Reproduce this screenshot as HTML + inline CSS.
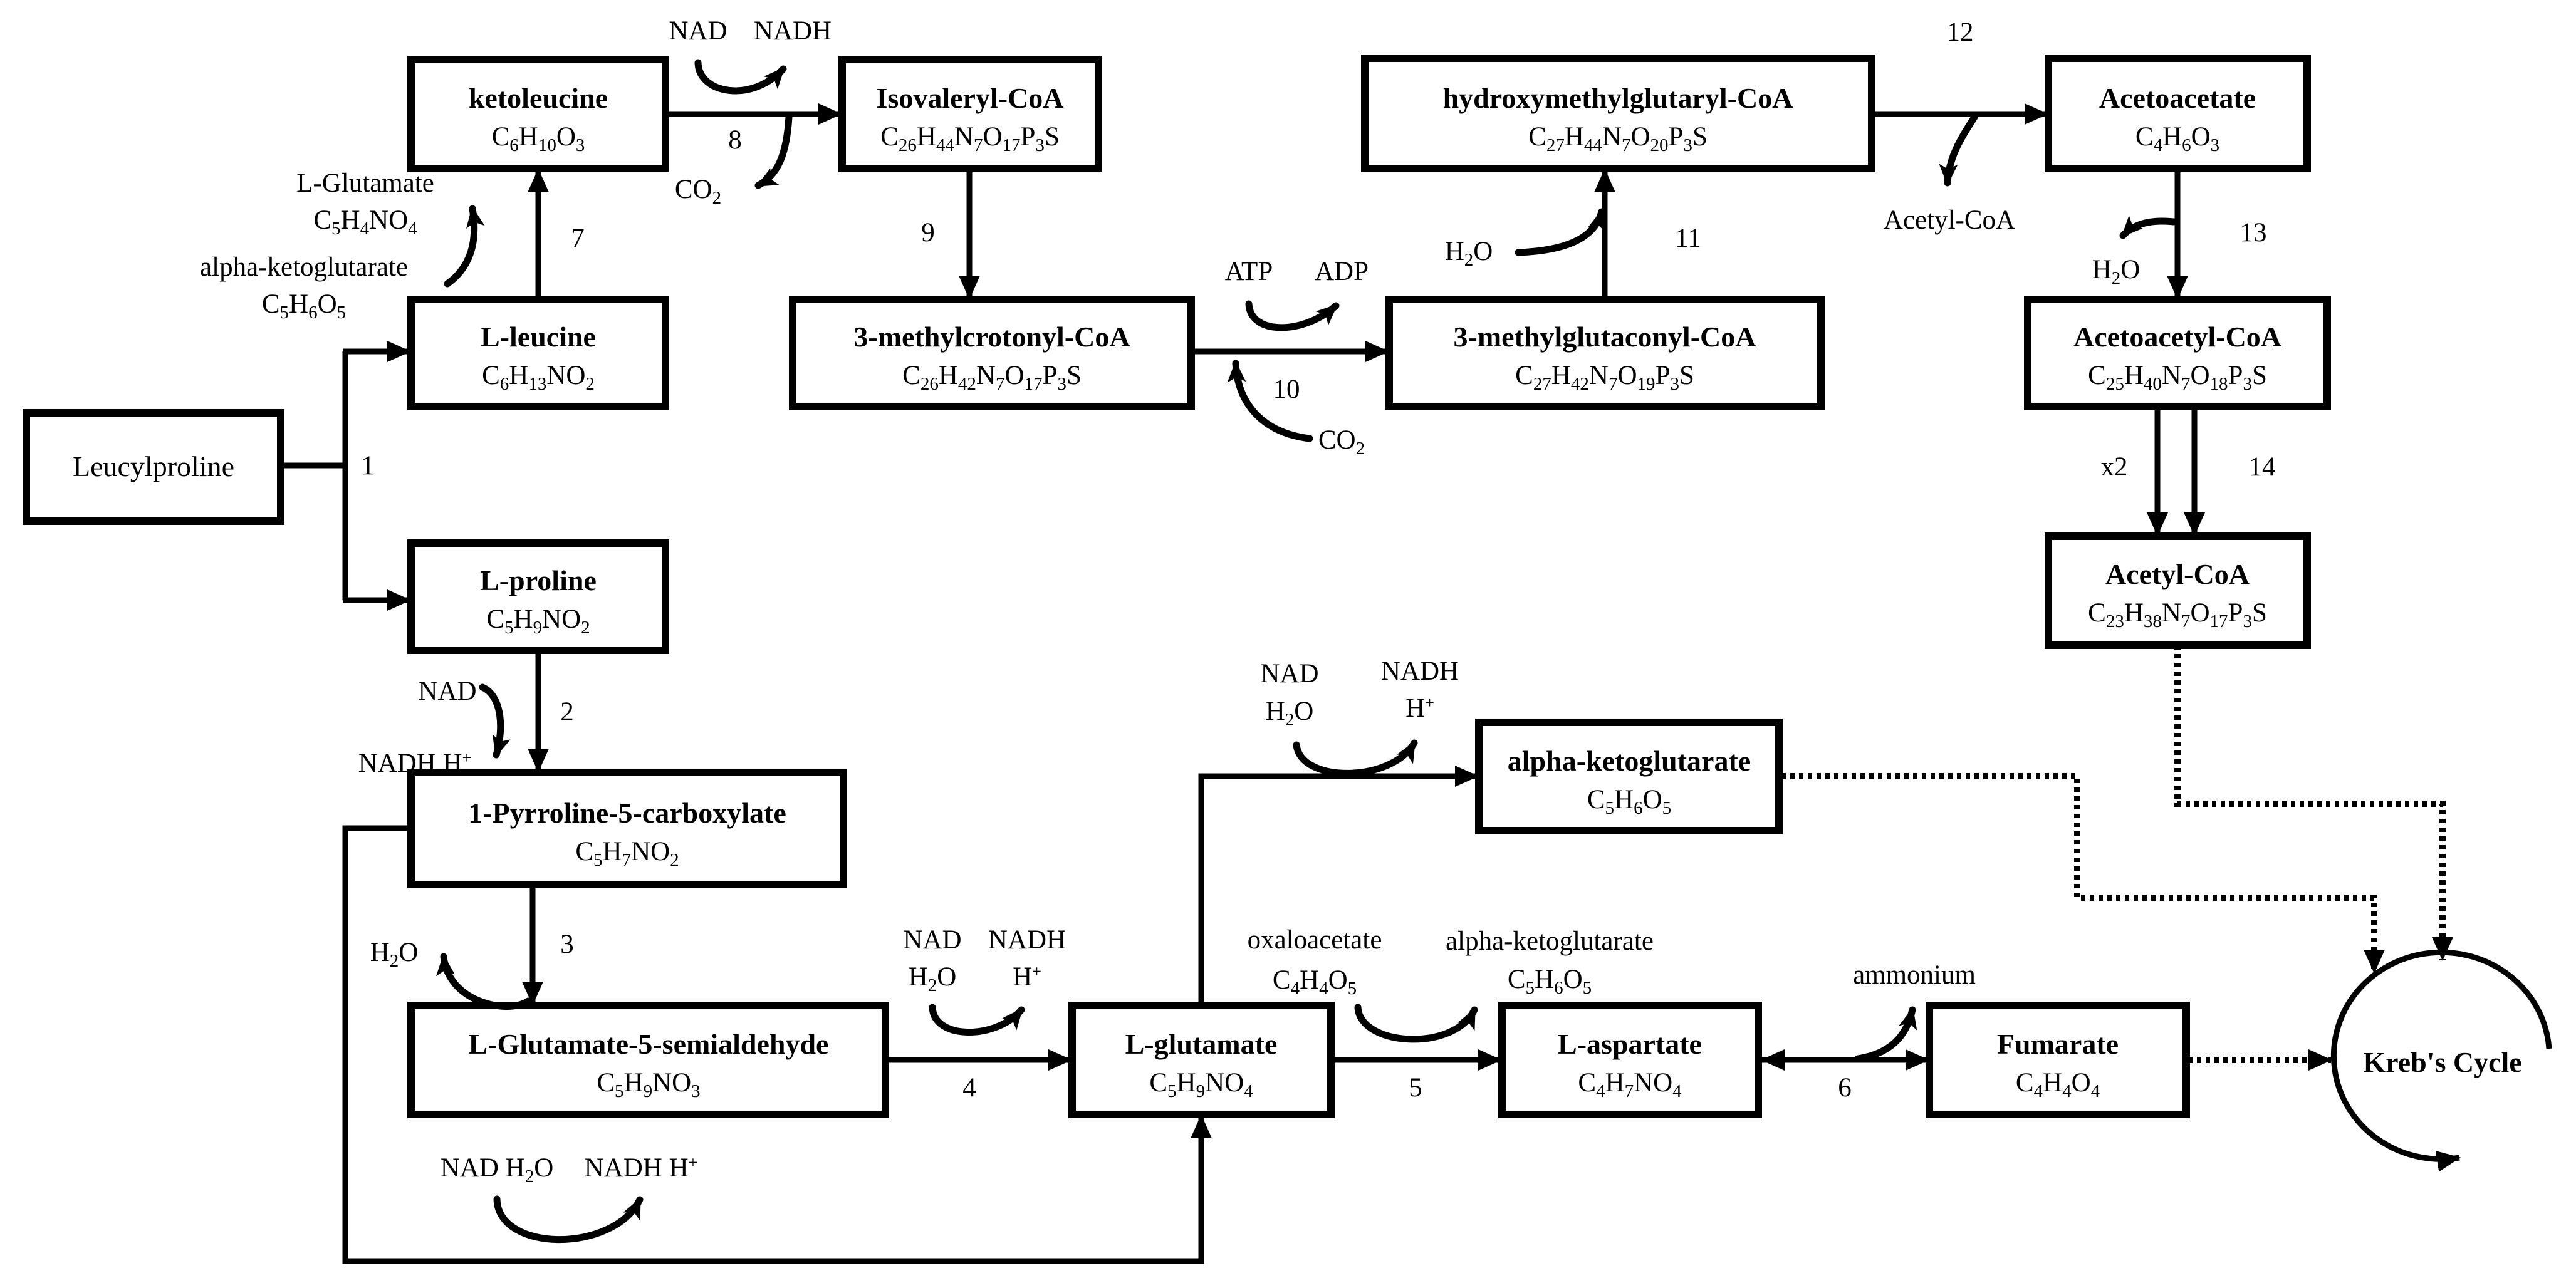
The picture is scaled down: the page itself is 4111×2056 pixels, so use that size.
<!DOCTYPE html>
<html><head><meta charset="utf-8"><style>
html,body{margin:0;padding:0;background:#fff}
svg{display:block}
text{font-family:"Liberation Serif",serif;fill:#000;text-anchor:middle}
.n{font-size:46px;font-weight:bold}
.f{font-size:43px}
.l{font-size:43px}
.s{font-size:29px}
.p{font-size:26px}
rect{fill:#fff;stroke:#000;stroke-width:12}
.c{fill:none;stroke:#000;stroke-width:9}
.k{fill:none;stroke:#000;stroke-width:11;stroke-linecap:round}
.d{fill:none;stroke:#000;stroke-width:10;stroke-dasharray:7 7}
</style></head><body>
<svg width="4111" height="2056" viewBox="0 0 4111 2056" xmlns="http://www.w3.org/2000/svg">
<defs>
<marker id="a" markerUnits="userSpaceOnUse" markerWidth="40" markerHeight="34" refX="36" refY="17" orient="auto"><path d="M0,0 L38,17 L0,34 Z" fill="#000"/></marker>
<marker id="b" markerUnits="userSpaceOnUse" markerWidth="40" markerHeight="34" refX="2" refY="17" orient="auto"><path d="M38,0 L0,17 L38,34 Z" fill="#000"/></marker>
<marker id="h" markerUnits="userSpaceOnUse" markerWidth="36" markerHeight="34" refX="30" refY="17" orient="auto"><path d="M0,2 L34,17 L0,32 L8,17 Z" fill="#000"/></marker>
</defs>

<rect x="656" y="95" width="406" height="174"/>
<rect x="1344" y="95" width="409" height="174"/>
<rect x="2178" y="93" width="809" height="176"/>
<rect x="3269" y="93" width="413" height="176"/>
<rect x="656" y="478" width="406" height="171"/>
<rect x="1265" y="478" width="636" height="171"/>
<rect x="2217" y="478" width="689" height="171"/>
<rect x="3236" y="478" width="478" height="171"/>
<rect x="42" y="659" width="406" height="173"/>
<rect x="656" y="867" width="406" height="171"/>
<rect x="3269" y="856" width="413" height="174"/>
<rect x="656" y="1233" width="690" height="179"/>
<rect x="2360" y="1153" width="479" height="173"/>
<rect x="656" y="1605" width="757" height="174"/>
<rect x="1711" y="1605" width="413" height="174"/>
<rect x="2397" y="1605" width="409" height="174"/>
<rect x="3079" y="1605" width="410" height="174"/>

<text class="n" x="859" y="172">ketoleucine</text>
<text class="f" x="859" y="232">C<tspan class="s" dy="9">6</tspan><tspan dy="-9">H</tspan><tspan class="s" dy="9">10</tspan><tspan dy="-9">O</tspan><tspan class="s" dy="9">3</tspan></text>
<text class="n" x="1548" y="172">Isovaleryl-CoA</text>
<text class="f" x="1548" y="232">C<tspan class="s" dy="9">26</tspan><tspan dy="-9">H</tspan><tspan class="s" dy="9">44</tspan><tspan dy="-9">N</tspan><tspan class="s" dy="9">7</tspan><tspan dy="-9">O</tspan><tspan class="s" dy="9">17</tspan><tspan dy="-9">P</tspan><tspan class="s" dy="9">3</tspan><tspan dy="-9">S</tspan></text>
<text class="n" x="2582" y="172">hydroxymethylglutaryl-CoA</text>
<text class="f" x="2582" y="232">C<tspan class="s" dy="9">27</tspan><tspan dy="-9">H</tspan><tspan class="s" dy="9">44</tspan><tspan dy="-9">N</tspan><tspan class="s" dy="9">7</tspan><tspan dy="-9">O</tspan><tspan class="s" dy="9">20</tspan><tspan dy="-9">P</tspan><tspan class="s" dy="9">3</tspan><tspan dy="-9">S</tspan></text>
<text class="n" x="3475" y="172">Acetoacetate</text>
<text class="f" x="3475" y="232">C<tspan class="s" dy="9">4</tspan><tspan dy="-9">H</tspan><tspan class="s" dy="9">6</tspan><tspan dy="-9">O</tspan><tspan class="s" dy="9">3</tspan></text>
<text class="n" x="859" y="553">L-leucine</text>
<text class="f" x="859" y="613">C<tspan class="s" dy="9">6</tspan><tspan dy="-9">H</tspan><tspan class="s" dy="9">13</tspan><tspan dy="-9">NO</tspan><tspan class="s" dy="9">2</tspan></text>
<text class="n" x="1583" y="553">3-methylcrotonyl-CoA</text>
<text class="f" x="1583" y="613">C<tspan class="s" dy="9">26</tspan><tspan dy="-9">H</tspan><tspan class="s" dy="9">42</tspan><tspan dy="-9">N</tspan><tspan class="s" dy="9">7</tspan><tspan dy="-9">O</tspan><tspan class="s" dy="9">17</tspan><tspan dy="-9">P</tspan><tspan class="s" dy="9">3</tspan><tspan dy="-9">S</tspan></text>
<text class="n" x="2561" y="553">3-methylglutaconyl-CoA</text>
<text class="f" x="2561" y="613">C<tspan class="s" dy="9">27</tspan><tspan dy="-9">H</tspan><tspan class="s" dy="9">42</tspan><tspan dy="-9">N</tspan><tspan class="s" dy="9">7</tspan><tspan dy="-9">O</tspan><tspan class="s" dy="9">19</tspan><tspan dy="-9">P</tspan><tspan class="s" dy="9">3</tspan><tspan dy="-9">S</tspan></text>
<text class="n" x="3475" y="553">Acetoacetyl-CoA</text>
<text class="f" x="3475" y="613">C<tspan class="s" dy="9">25</tspan><tspan dy="-9">H</tspan><tspan class="s" dy="9">40</tspan><tspan dy="-9">N</tspan><tspan class="s" dy="9">7</tspan><tspan dy="-9">O</tspan><tspan class="s" dy="9">18</tspan><tspan dy="-9">P</tspan><tspan class="s" dy="9">3</tspan><tspan dy="-9">S</tspan></text>
<text class="f" x="245" y="760" style="font-size:46px">Leucylproline</text>
<text class="n" x="859" y="942">L-proline</text>
<text class="f" x="859" y="1002">C<tspan class="s" dy="9">5</tspan><tspan dy="-9">H</tspan><tspan class="s" dy="9">9</tspan><tspan dy="-9">NO</tspan><tspan class="s" dy="9">2</tspan></text>
<text class="n" x="3475" y="932">Acetyl-CoA</text>
<text class="f" x="3475" y="992">C<tspan class="s" dy="9">23</tspan><tspan dy="-9">H</tspan><tspan class="s" dy="9">38</tspan><tspan dy="-9">N</tspan><tspan class="s" dy="9">7</tspan><tspan dy="-9">O</tspan><tspan class="s" dy="9">17</tspan><tspan dy="-9">P</tspan><tspan class="s" dy="9">3</tspan><tspan dy="-9">S</tspan></text>
<text class="n" x="1001" y="1313">1-Pyrroline-5-carboxylate</text>
<text class="f" x="1001" y="1373">C<tspan class="s" dy="9">5</tspan><tspan dy="-9">H</tspan><tspan class="s" dy="9">7</tspan><tspan dy="-9">NO</tspan><tspan class="s" dy="9">2</tspan></text>
<text class="n" x="2600" y="1230">alpha-ketoglutarate</text>
<text class="f" x="2600" y="1290">C<tspan class="s" dy="9">5</tspan><tspan dy="-9">H</tspan><tspan class="s" dy="9">6</tspan><tspan dy="-9">O</tspan><tspan class="s" dy="9">5</tspan></text>
<text class="n" x="1035" y="1682">L-Glutamate-5-semialdehyde</text>
<text class="f" x="1035" y="1742">C<tspan class="s" dy="9">5</tspan><tspan dy="-9">H</tspan><tspan class="s" dy="9">9</tspan><tspan dy="-9">NO</tspan><tspan class="s" dy="9">3</tspan></text>
<text class="n" x="1917" y="1682">L-glutamate</text>
<text class="f" x="1917" y="1742">C<tspan class="s" dy="9">5</tspan><tspan dy="-9">H</tspan><tspan class="s" dy="9">9</tspan><tspan dy="-9">NO</tspan><tspan class="s" dy="9">4</tspan></text>
<text class="n" x="2601" y="1682">L-aspartate</text>
<text class="f" x="2601" y="1742">C<tspan class="s" dy="9">4</tspan><tspan dy="-9">H</tspan><tspan class="s" dy="9">7</tspan><tspan dy="-9">NO</tspan><tspan class="s" dy="9">4</tspan></text>
<text class="n" x="3284" y="1682">Fumarate</text>
<text class="f" x="3284" y="1742">C<tspan class="s" dy="9">4</tspan><tspan dy="-9">H</tspan><tspan class="s" dy="9">4</tspan><tspan dy="-9">O</tspan><tspan class="s" dy="9">4</tspan></text>

<path class="c" d="M1062,182 H1342" marker-end="url(#a)"/>
<path class="c" d="M859,478 V271" marker-end="url(#a)"/>
<path class="c" d="M1547,269 V476" marker-end="url(#a)"/>
<path class="c" d="M448,743 H551 M551,561 V958"/>
<path class="c" d="M547,561 H654" marker-end="url(#a)"/>
<path class="c" d="M547,958 H654" marker-end="url(#a)"/>
<path class="c" d="M1901,561 H2215" marker-end="url(#a)"/>
<path class="c" d="M2561,478 V271" marker-end="url(#a)"/>
<path class="c" d="M2987,182 H3267" marker-end="url(#a)"/>
<path class="c" d="M3475,269 V476" marker-end="url(#a)"/>
<path class="c" d="M3443,649 V854" marker-end="url(#a)"/>
<path class="c" d="M3502,649 V854" marker-end="url(#a)"/>
<path class="c" d="M859,1038 V1231" marker-end="url(#a)"/>
<path class="c" d="M850,1412 V1603" marker-end="url(#a)"/>
<path class="c" d="M1413,1692 H1709" marker-end="url(#a)"/>
<path class="c" d="M2124,1692 H2395" marker-end="url(#a)"/>
<path class="c" d="M2812,1692 H3077" marker-start="url(#b)" marker-end="url(#a)"/>
<path class="c" d="M656,1322 H551 V2013 H1917 V1781" marker-end="url(#a)"/>
<path class="c" d="M1917,1605 V1239 H2358" marker-end="url(#a)"/>

<path class="d" d="M2843,1239 H3315 V1433 H3789 V1552" marker-end="url(#a)"/>
<path class="d" d="M3475,1030 V1283 H3898 V1532" marker-end="url(#a)"/>
<path class="d" d="M3492,1692 H3720" marker-end="url(#a)"/>

<path class="c" d="M4068,1674 A172 165 0 1 0 3925,1848" marker-end="url(#a)"/>
<text class="n" x="3898" y="1711">Kreb's Cycle</text>

<path class="k" d="M1114,100 C1115,150 1200,165 1250,110" marker-end="url(#h)"/>
<path class="k" d="M1259,187 C1255,250 1240,280 1210,296" marker-end="url(#h)"/>
<path class="k" d="M714,453 C760,420 760,370 754,333" marker-end="url(#h)"/>
<path class="k" d="M1993,485 C1995,535 2080,535 2132,488" marker-end="url(#h)"/>
<path class="k" d="M2090,700 C2010,690 1975,640 1972,580" marker-end="url(#h)"/>
<path class="k" d="M2423,403 C2500,400 2545,380 2556,338" marker-end="url(#h)"/>
<path class="k" d="M3151,187 C3130,220 3110,250 3108,292" marker-end="url(#h)"/>
<path class="k" d="M3469,354 C3430,350 3405,358 3388,376" marker-end="url(#h)"/>
<path class="k" d="M770,1097 C800,1110 805,1160 792,1205" marker-end="url(#h)"/>
<path class="k" d="M843,1598 C810,1620 715,1600 708,1527" marker-end="url(#h)"/>
<path class="k" d="M1488,1608 C1490,1660 1590,1660 1630,1612" marker-end="url(#h)"/>
<path class="k" d="M793,1914 C795,2000 980,2000 1021,1915" marker-end="url(#h)"/>
<path class="k" d="M2069,1189 C2075,1250 2220,1250 2257,1186" marker-end="url(#h)"/>
<path class="k" d="M2167,1608 C2170,1670 2320,1680 2353,1612" marker-end="url(#h)"/>
<path class="k" d="M2965,1690 C3030,1680 3045,1640 3052,1612" marker-end="url(#h)"/>

<text class="l" x="1114" y="63">NAD</text>
<text class="l" x="1265" y="63">NADH</text>
<text class="l" x="1173" y="237">8</text>
<text class="l" x="1114" y="316">CO<tspan class="s" dy="9">2</tspan></text>
<text class="l" x="922" y="394">7</text>
<text class="l" x="1481" y="385">9</text>
<text class="l" x="583" y="306">L-Glutamate</text>
<text class="l" x="583" y="365">C<tspan class="s" dy="9">5</tspan><tspan dy="-9">H</tspan><tspan class="s" dy="9">4</tspan><tspan dy="-9">NO</tspan><tspan class="s" dy="9">4</tspan></text>
<text class="l" x="485" y="440">alpha-ketoglutarate</text>
<text class="l" x="485" y="499">C<tspan class="s" dy="9">5</tspan><tspan dy="-9">H</tspan><tspan class="s" dy="9">6</tspan><tspan dy="-9">O</tspan><tspan class="s" dy="9">5</tspan></text>
<text class="l" x="587" y="757">1</text>
<text class="l" x="1993" y="447">ATP</text>
<text class="l" x="2141" y="447">ADP</text>
<text class="l" x="2053" y="635">10</text>
<text class="l" x="2141" y="716">CO<tspan class="s" dy="9">2</tspan></text>
<text class="l" x="2344" y="415">H<tspan class="s" dy="9">2</tspan><tspan dy="-9">O</tspan></text>
<text class="l" x="2694" y="394">11</text>
<text class="l" x="3128" y="65">12</text>
<text class="l" x="3111" y="365">Acetyl-CoA</text>
<text class="l" x="3596" y="385">13</text>
<text class="l" x="3377" y="444">H<tspan class="s" dy="9">2</tspan><tspan dy="-9">O</tspan></text>
<text class="l" x="3374" y="759">x2</text>
<text class="l" x="3610" y="759">14</text>
<text class="l" x="714" y="1117">NAD</text>
<text class="l" x="662" y="1232">NADH H<tspan class="p" dy="-14">+</tspan></text>
<text class="l" x="905" y="1150">2</text>
<text class="l" x="905" y="1521">3</text>
<text class="l" x="629" y="1534">H<tspan class="s" dy="9">2</tspan><tspan dy="-9">O</tspan></text>
<text class="l" x="1488" y="1514">NAD</text>
<text class="l" x="1488" y="1573">H<tspan class="s" dy="9">2</tspan><tspan dy="-9">O</tspan></text>
<text class="l" x="1639" y="1514">NADH</text>
<text class="l" x="1639" y="1573">H<tspan class="p" dy="-14">+</tspan></text>
<text class="l" x="1547" y="1750">4</text>
<text class="l" x="793" y="1878">NAD H<tspan class="s" dy="9">2</tspan><tspan dy="-9">O</tspan></text>
<text class="l" x="1023" y="1878">NADH H<tspan class="p" dy="-14">+</tspan></text>
<text class="l" x="2058" y="1089">NAD</text>
<text class="l" x="2058" y="1149">H<tspan class="s" dy="9">2</tspan><tspan dy="-9">O</tspan></text>
<text class="l" x="2266" y="1085">NADH</text>
<text class="l" x="2266" y="1144">H<tspan class="p" dy="-14">+</tspan></text>
<text class="l" x="2098" y="1514">oxaloacetate</text>
<text class="l" x="2098" y="1578">C<tspan class="s" dy="9">4</tspan><tspan dy="-9">H</tspan><tspan class="s" dy="9">4</tspan><tspan dy="-9">O</tspan><tspan class="s" dy="9">5</tspan></text>
<text class="l" x="2473" y="1516">alpha-ketoglutarate</text>
<text class="l" x="2473" y="1577">C<tspan class="s" dy="9">5</tspan><tspan dy="-9">H</tspan><tspan class="s" dy="9">6</tspan><tspan dy="-9">O</tspan><tspan class="s" dy="9">5</tspan></text>
<text class="l" x="2259" y="1750">5</text>
<text class="l" x="2944" y="1750">6</text>
<text class="l" x="3055" y="1570">ammonium</text>
</svg>
</body></html>
